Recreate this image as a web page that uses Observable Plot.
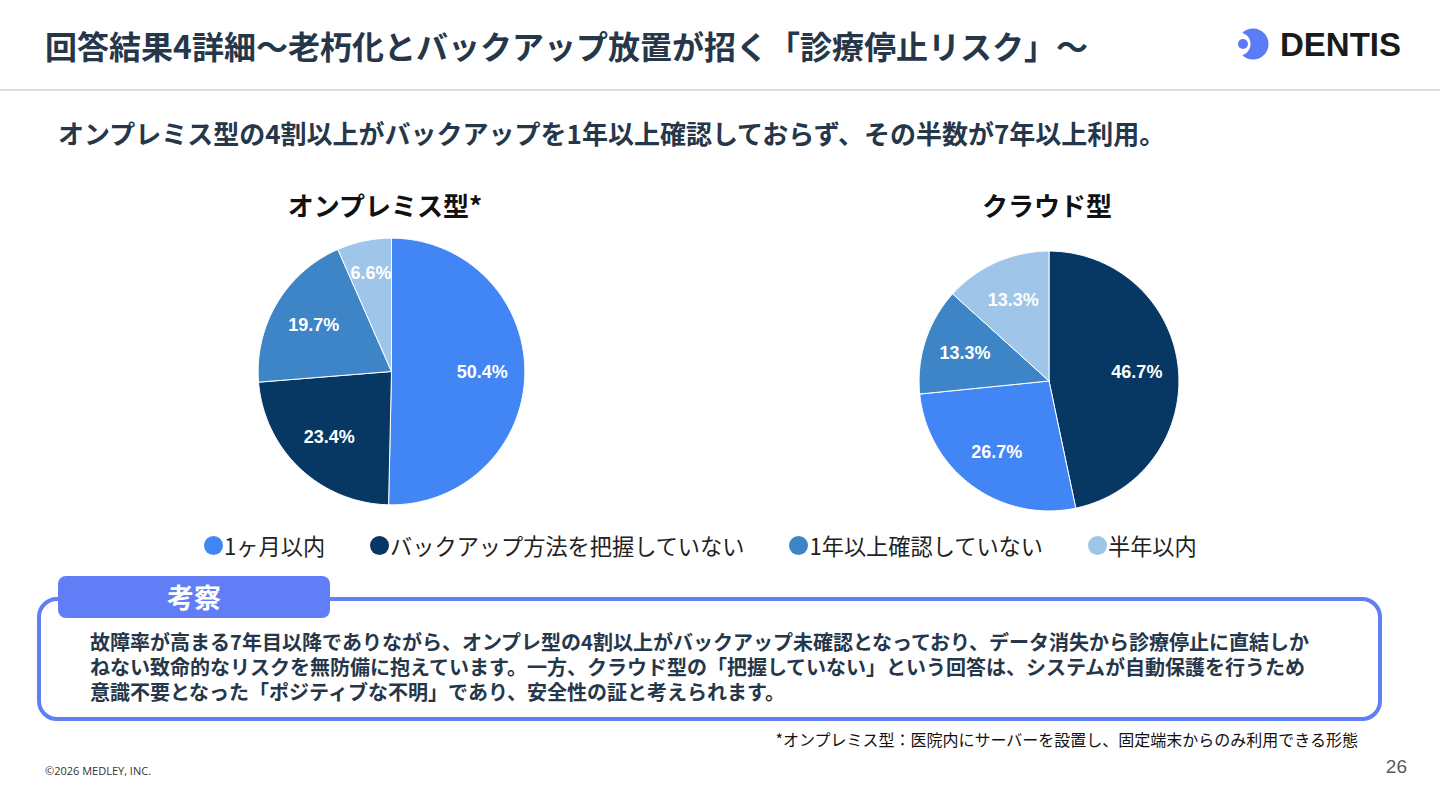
<!DOCTYPE html>
<html><head><meta charset="utf-8">
<script src="https://cdn.jsdelivr.net/npm/d3@7"></script>
<script src="https://cdn.jsdelivr.net/npm/@observablehq/plot@0.6"></script>
<style>
@font-face{font-family:"BodyJP";src:local("Noto Sans CJK JP Bold"),local("NotoSansCJKjp-Bold");font-weight:700;ascent-override:88%;descent-override:12%;line-gap-override:0%;}
html,body{margin:0;padding:0;background:#fff;}
#slide{position:relative;width:1440px;height:810px;overflow:hidden;background:#fff;font-family:"Noto Sans CJK JP","Noto Sans",sans-serif;}
.abs{position:absolute;white-space:nowrap;}
.title{left:45px;top:29px;font-size:32px;line-height:32px;font-weight:700;color:#26374a;}
.rule{left:0;top:89px;width:1440px;height:2px;background:#dcdcdc;}
.sub{left:58px;top:120px;font-size:26px;line-height:26px;font-weight:700;color:#26374a;}
.ptitle{width:400px;text-align:center;top:192px;font-size:26px;line-height:26px;font-weight:700;color:#111;}
.legend{left:204px;top:533px;display:flex;gap:45px;font-size:22.2px;line-height:24px;color:#222;}
.legend .item{display:flex;align-items:center;}
.legend .dot{width:19px;height:19px;border-radius:50%;display:inline-block;margin-right:1px;}
.box{left:37px;top:597px;width:1345px;height:124px;box-sizing:border-box;border:4px solid #627ef6;border-radius:20px;}
.tab{left:58px;top:576px;width:272px;height:42px;border-radius:8px;background:#627ef6;color:#fff;font-size:27px;font-weight:700;line-height:42px;text-align:center;}
.body{left:90px;height:25px;overflow:visible;font-family:"BodyJP","Noto Sans CJK JP",sans-serif;font-size:20px;line-height:25px;font-weight:700;color:#26374a;}
.foot{right:82px;top:731px;font-size:16px;line-height:16px;color:#111;}
.copy{left:45px;top:765px;font-size:11px;line-height:11px;color:#333;font-family:"Open Sans","Noto Sans",sans-serif;}
.page{right:33px;top:757px;font-size:19px;line-height:19px;color:#595959;font-family:"Liberation Sans",Arial,sans-serif;}
.brand{left:1280px;top:28px;font-size:33px;line-height:33px;font-weight:700;color:#1a1a1a;font-family:"Liberation Sans",Arial,sans-serif;}
</style>
</head><body>
<div id="slide">
  <div class="abs title">回答結果4詳細〜老朽化とバックアップ放置が招く「診療停止リスク」〜</div>
  <svg class="abs" style="left:1230px;top:24px" width="45" height="40" viewBox="1230 24 45 40">
    <defs><mask id="cres"><rect x="1230" y="24" width="45" height="40" fill="white"/><circle cx="1239" cy="44" r="11.5" fill="black"/></mask></defs>
    <circle cx="1253" cy="44" r="15.5" fill="#5b7cf6" mask="url(#cres)"/>
    <circle cx="1243" cy="44" r="5" fill="#5b7cf6"/>
  </svg>
  <div class="abs brand">DENTIS</div>
  <div class="abs rule"></div>
  <div class="abs sub">オンプレミス型の4割以上がバックアップを1年以上確認しておらず、その半数が7年以上利用。</div>
  <div class="abs ptitle" style="left:185px">オンプレミス型*</div>
  <div class="abs ptitle" style="left:847px">クラウド型</div>
  <div id="pie1" class="abs"></div>
  <div id="pie2" class="abs"></div>
  <div id="legend" class="abs legend"></div>
  <div class="abs box"></div>
  <div class="abs tab">考察</div>
  <div class="abs body" style="top:629.5px">故障率が高まる7年目以降でありながら、オンプレ型の4割以上がバックアップ未確認となっており、データ消失から診療停止に直結しか</div>
  <div class="abs body" style="top:654.5px">ねない致命的なリスクを無防備に抱えています。一方、クラウド型の「把握していない」という回答は、システムが自動保護を行うため</div>
  <div class="abs body" style="top:679.5px">意識不要となった「ポジティブな不明」であり、安全性の証と考えられます。</div>
  <div class="abs foot">*オンプレミス型：医院内にサーバーを設置し、固定端末からのみ利用できる形態</div>
  <div class="abs copy">©2026 MEDLEY, INC.</div>
  <div class="abs page">26</div>
</div>
<script>
// ---- data ----
const categories = ["1ヶ月以内", "バックアップ方法を把握していない", "1年以上確認していない", "半年以内"];
const categoryColors = ["#4285f4", "#073763", "#3d85c6", "#9fc5e8"];

const onpremCategories = ["1ヶ月以内", "バックアップ方法を把握していない", "1年以上確認していない", "半年以内"];
const onpremValues = [50.4, 23.4, 19.7, 6.6];

const cloudCategories = ["バックアップ方法を把握していない", "1ヶ月以内", "1年以上確認していない", "半年以内"];
const cloudValues = [46.7, 26.7, 13.3, 13.3];

// ---- build slice geometry from the values (clockwise from 12 o'clock) ----
function pieData(cats, vals) {
  const total = d3.sum(vals);
  const pts = [], labels = [];
  let cum = 0;
  cats.forEach((c, i) => {
    const a0 = 2 * Math.PI * cum / total;
    cum += vals[i];
    const a1 = 2 * Math.PI * cum / total;
    const n = Math.max(2, Math.ceil((a1 - a0) / (Math.PI / 180)));
    pts.push({category: c, x: 0, y: 0});
    for (let k = 0; k <= n; k++) {
      const a = a0 + (a1 - a0) * k / n;
      pts.push({category: c, x: Math.sin(a), y: Math.cos(a)});
    }
    pts.push({category: c, x: 0, y: 0});
    const am = (a0 + a1) / 2;
    const lr = vals[i] / total < 0.1 ? 0.75 : 0.68;
    labels.push({category: c, value: vals[i], x: lr * Math.sin(am), y: lr * Math.cos(am)});
  });
  return {pts, labels};
}

function pieChart(cats, vals, r) {
  const D = 1.02;
  const size = Math.round(2 * r * D);
  const {pts, labels} = pieData(cats, vals);
  return Plot.plot({
    width: size, height: size, margin: 0,
    x: {domain: [-D, D], axis: null},
    y: {domain: [-D, D], axis: null},
    color: {domain: categories, range: categoryColors},
    style: {background: "transparent", overflow: "visible"},
    marks: [
      Plot.line(pts, {x: "x", y: "y", z: "category", fill: "category", stroke: "white", strokeWidth: 1, curve: "linear"}),
      Plot.text(labels, {x: "x", y: "y", text: d => d.value.toFixed(1) + "%", fill: "white", fontSize: 18, fontWeight: "bold", fontFamily: "Liberation Sans, Arial, sans-serif"})
    ]
  });
}

function place(id, chart, cx, cy) {
  const el = document.getElementById(id);
  el.appendChild(chart);
  const w = +chart.getAttribute("width");
  el.style.left = (cx - w / 2) + "px";
  el.style.top = (cy - w / 2) + "px";
}

place("pie1", pieChart(onpremCategories, onpremValues, 133.5), 391, 370.5);
place("pie2", pieChart(cloudCategories, cloudValues, 130), 1048, 380);

// ---- legend ----
const lg = document.getElementById("legend");
categories.forEach((c, i) => {
  const it = document.createElement("div");
  it.className = "item";
  const dot = document.createElement("span");
  dot.className = "dot";
  dot.style.background = categoryColors[i];
  const t = document.createElement("span");
  t.textContent = c;
  it.appendChild(dot); it.appendChild(t);
  lg.appendChild(it);
});
</script>
</body></html>
